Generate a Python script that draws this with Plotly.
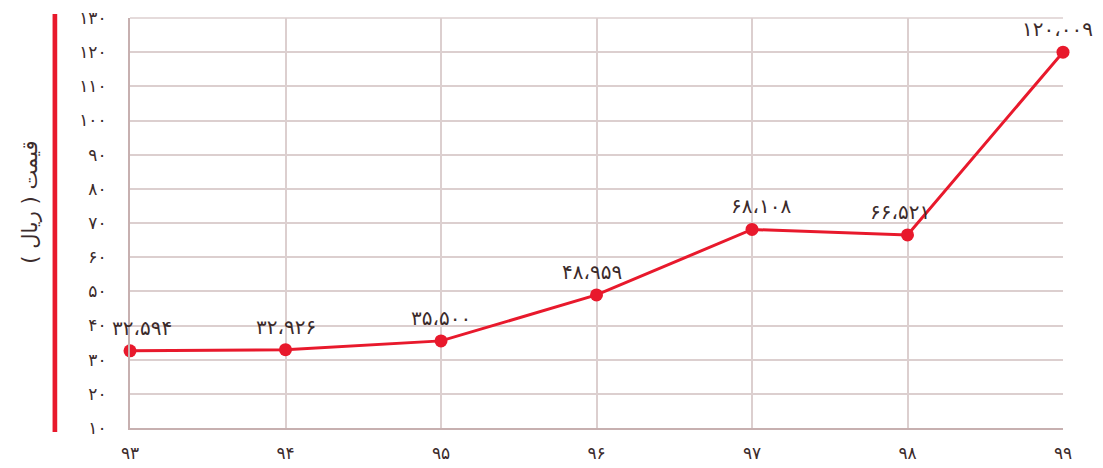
import plotly.graph_objects as go

years = [93, 94, 95, 96, 97, 98, 99]
year_labels = ["۹۳", "۹۴", "۹۵", "۹۶", "۹۷", "۹۸", "۹۹"]
prices = [32.594, 32.926, 35.5, 48.959, 68.108, 66.521, 120.009]
price_labels = ["۳۲،۵۹۴", "۳۲،۹۲۶", "۳۵،۵۰۰", "۴۸،۹۵۹", "۶۸،۱۰۸", "۶۶،۵۲۱", "۱۲۰،۰۰۹"]
y_ticks = [10, 20, 30, 40, 50, 60, 70, 80, 90, 100, 110, 120, 130]
y_tick_labels = ["۱۰", "۲۰", "۳۰", "۴۰", "۵۰", "۶۰", "۷۰", "۸۰", "۹۰", "۱۰۰", "۱۱۰", "۱۲۰", "۱۳۰"]

# small horizontal nudges of the value labels, as in the original artwork
label_nudge = [12, 0, 0, -5, 9, -8, -6]

red = "#e8192c"
ink = "#3b2b2b"
grid = "#dccfcf"

trace = go.Scatter(
    x=years,
    y=prices,
    mode="lines+markers",
    line={"color": red, "width": 3},
    marker={"color": red, "size": 13},
    cliponaxis=False,
    hoverinfo="skip",
)

annotations = []
for yr, val, lab, dx in zip(years, prices, price_labels, label_nudge):
    annotations.append({
        "x": yr, "y": val, "text": lab,
        "showarrow": False, "xshift": dx, "yshift": 23,
        "font": {"size": 20, "color": ink},
    })

annotations.append({
    "text": "قیمت ( ریال )",
    "xref": "paper", "yref": "paper",
    "x": -0.107, "y": 0.55,
    "xanchor": "center", "yanchor": "middle",
    "textangle": -90,
    "showarrow": False,
    "font": {"size": 21, "color": ink},
})

layout = go.Layout(
    width=1103,
    height=468,
    margin={"l": 122, "r": 48, "t": 10, "b": 48},
    paper_bgcolor="white",
    plot_bgcolor="white",
    showlegend=False,
    font={"family": "DejaVu Sans", "color": ink},
    xaxis={
        "range": [93, 99],
        "tickvals": years,
        "ticktext": year_labels,
        "showgrid": True,
        "gridcolor": grid,
        "gridwidth": 1.5,
        "showline": True,
        "linecolor": "#c7b0b0",
        "linewidth": 2,
        "zeroline": False,
        "ticks": "",
        "ticklabelstandoff": 9,
        "ticklabeloverflow": "allow",
        "tickfont": {"size": 17, "color": ink},
        "automargin": False,
    },
    yaxis={
        "range": [10, 130],
        "tickvals": y_ticks,
        "ticktext": y_tick_labels,
        "showgrid": True,
        "gridcolor": grid,
        "gridwidth": 1.5,
        "showline": True,
        "linecolor": "#c7b0b0",
        "linewidth": 2,
        "zeroline": False,
        "ticks": "",
        "ticklabelstandoff": 18,
        "ticklabeloverflow": "allow",
        "tickfont": {"size": 17, "color": ink},
        "automargin": False,
    },
    shapes=[
        {
            "type": "rect", "xref": "paper", "yref": "paper",
            "x0": -0.083, "x1": -0.078, "y0": -0.01, "y1": 1.01,
            "fillcolor": red, "line": {"width": 0},
        },
        {
            "type": "line", "xref": "paper", "yref": "paper",
            "x0": 0, "x1": 1, "y0": 1, "y1": 1,
            "line": {"color": grid, "width": 1.5},
        },
    ],
    annotations=annotations,
)

fig = go.Figure(data=[trace], layout=layout)
fig.write_html("out.html")
